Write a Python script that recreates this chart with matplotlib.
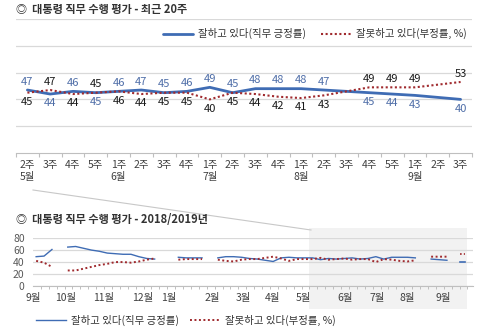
import numpy as np
import matplotlib
matplotlib.use("Agg")
import matplotlib.pyplot as plt
from matplotlib.lines import Line2D
from matplotlib.patches import Rectangle
from matplotlib.transforms import blended_transform_factory

plt.rcParams['font.family'] = ['Noto Sans CJK KR', 'DejaVu Sans']

BLUE = '#3f6cb4'
RED = '#a02a2e'
BLUE_TXT = '#4f6ea8'
GRID = '#d9d9d9'

# --- recent 20 weeks ---
weeks = ['2주', '3주', '4주', '5주', '1주', '2주', '3주', '4주', '1주', '2주',
         '3주', '4주', '1주', '2주', '3주', '4주', '5주', '1주', '2주', '3주']
months = ['5월', '', '', '', '6월', '', '', '', '7월', '', '',
          '', '8월', '', '', '', '', '9월', '', '']
positive = [47, 44, 46, 45, 46, 47, 45, 46, 49, 45, 48, 48, 48, 47, None, 45, 44, 43, None, 40]
negative = [45, 47, 44, 45, 46, 44, 45, 45, 40, 45, 44, 42, 41, 43, None, 49, 49, 49, None, 53]
neg_on_top = {3}  # ties where the negative label sits above

# --- 2018/2019 weekly (nan = no survey) ---
nan = np.nan
yr_positive = [49, 50, 61, nan, 65, 66, 63, 60, 58, 55, 54, 53, 53, 49, 46, 45,
               nan, nan, 48, 47, 47, 47, nan,
               47, 49, 49, 48, 46, 45, 43, 41, 47, 48, 47, 47,
               47, 44, 46, 45, 46, 47, 45, 46, 49, 45, 48, 48, 48, 47,
               nan, 45, 44, 43, nan, 40]
yr_negative = [42, 39, 32, nan, 26, 26, 29, 32, 35, 37, 40, 40, 39, 41, 44, 46,
               nan, nan, 44, 45, 45, 45, nan,
               44, 42, 41, 44, 45, 45, 47, 49, 46, 42, 45, 45,
               45, 47, 44, 45, 46, 44, 45, 45, 40, 45, 44, 42, 41, 43,
               nan, 49, 49, 49, nan, 53]
month_names = ['9월', '10월', '11월', '12월', '1월', '2월', '3월', '4월',
               '5월', '6월', '7월', '8월', '9월']
month_pos = [-0.4, 3.7, 8.5, 13.5, 16.8, 22.3, 26.2, 29.9, 33.8, 39.1, 43.2, 47.0, 51.5]

fig = plt.figure(figsize=(5, 3.33), dpi=100)

# ---------------- top chart ----------------
ax = fig.add_axes([0.032, 0.5405, 0.912, 0.4025])
x = np.arange(len(weeks))
px = [i for i, v in enumerate(positive) if v is not None]
pv = [v for v in positive if v is not None]
nx = [i for i, v in enumerate(negative) if v is not None]
nv = [v for v in negative if v is not None]
ax.plot(px, pv, color=BLUE, lw=2.0, solid_capstyle='round', label='잘하고 있다(직무 긍정률)', zorder=3)
ax.plot(nx, nv, color=RED, lw=1.5, ls=(0, (1, 1.2)), label='잘못하고 있다(부정률, %)', zorder=3)

for i, (p, n) in enumerate(zip(positive, negative)):
    if p is None:
        continue
    pos_top = (p >= n) and i not in neg_on_top
    for val, col, top in ((p, BLUE_TXT, pos_top), (n, '#1a1a1a', not pos_top)):
        ax.annotate(str(val), (i, val), xytext=(0, 2.5 if top else -3), textcoords='offset points',
                    ha='center', va='bottom' if top else 'top', fontsize=8, color=col)

ax.set_xlim(-0.5, len(weeks) - 0.5)
ax.set_ylim(0, 100)
ax.set_yticks([20, 40, 60, 80, 100])
ax.yaxis.grid(True, color=GRID, lw=0.9)
ax.tick_params(axis='y', length=0, labelleft=False)
ax.set_xticks(x)
ax.set_xticklabels([w + ('\n' + m if m else '') for w, m in zip(weeks, months)],
                   fontsize=7.5, color='#404040', va='top', linespacing=1.3)
ax.tick_params(axis='x', which='major', length=0, pad=5)
ax.set_xticks(np.arange(-0.5, len(weeks)), minor=True)
ax.tick_params(axis='x', which='minor', length=3, color='#bfbfbf', width=0.8)
for lab in ax.get_xticklabels():
    lab.set_multialignment('left')
for s in ['top', 'left', 'right']:
    ax.spines[s].set_visible(False)
ax.spines['bottom'].set_color('#bfbfbf')
ax.set_axisbelow(True)
ax.legend(loc='center right', bbox_to_anchor=(1.005, 0.89), ncol=2, frameon=False,
          fontsize=7.5, handlelength=2.9, columnspacing=1.4, handletextpad=0.5,
          borderpad=0.2, labelcolor='#333333')

fig.text(0.032, 0.97, '◎  대통령 직무 수행 평가 - 최근 20주', fontsize=8,
         fontweight='bold', color='#333333', va='center')

# ---------------- bottom chart ----------------
ax2 = fig.add_axes([0.066, 0.141, 0.88, 0.144])
xx = np.arange(len(yr_positive))
yp = np.array(yr_positive, dtype=float)
yn = np.array(yr_negative, dtype=float)
ax2.plot(xx, yp, color=BLUE, lw=1.0, zorder=3, label='잘하고 있다(직무 긍정률)')
ax2.plot(xx, yn, color=RED, lw=1.4, ls=(0, (1, 1.3)), zorder=3, label='잘못하고 있다(부정률, %)')
# isolated weeks drawn as a short dash
for arr, col in ((yp, BLUE), (yn, RED)):
    for i in range(len(arr)):
        prev_nan = i == 0 or np.isnan(arr[i - 1])
        next_nan = i == len(arr) - 1 or np.isnan(arr[i + 1])
        if not np.isnan(arr[i]) and prev_nan and next_nan:
            ax2.plot([i - 0.35, i + 0.35], [arr[i], arr[i]], color=col, lw=1.2,
                     ls='-' if col == BLUE else (0, (1, 1.3)), zorder=3)

ax2.set_xlim(-0.4, 55.3)
ax2.set_ylim(0, 80)
ax2.set_yticks([0, 20, 40, 60, 80])
ax2.tick_params(axis='y', length=0, labelsize=7.5, labelcolor='#595959', pad=6)
ax2.yaxis.grid(True, color=GRID, lw=0.9)
ax2.set_xticks(month_pos)
ax2.set_xticklabels(month_names, fontsize=7.5, color='#404040')
ax2.tick_params(axis='x', which='major', length=0, pad=5)
ax2.set_xticks(np.arange(-0.4, 55.4, 1.0), minor=True)
ax2.tick_params(axis='x', which='minor', length=2.5, color='#bfbfbf', width=0.7)
for s in ['top', 'left', 'right']:
    ax2.spines[s].set_visible(False)
ax2.spines['bottom'].set_color('#bfbfbf')
ax2.set_axisbelow(True)

trans = blended_transform_factory(ax2.transData, ax2.transAxes)
ax2.add_patch(Rectangle((34.6, -0.48), 20.0, 1.69, transform=trans, facecolor='#f2f2f2',
                        edgecolor='none', clip_on=False, zorder=0))

ax2.legend(loc='center left', bbox_to_anchor=(-0.01, -0.72), ncol=2, frameon=False,
           fontsize=7.5, handlelength=2.9, columnspacing=1.0, handletextpad=0.5,
           borderpad=0.2, labelcolor='#333333')

fig.text(0.032, 0.34, '◎  대통령 직무 수행 평가 - 2018/2019년', fontsize=8,
         fontweight='bold', color='#333333', va='center')

# connector from recent chart to the shaded window
fig.add_artist(Line2D([33 / 500, 311 / 500], [1 - 190 / 333, 1 - 230 / 333],
                      color='#c8c8c8', lw=0.8, transform=fig.transFigure))

fig.savefig('out.png', dpi=100)
